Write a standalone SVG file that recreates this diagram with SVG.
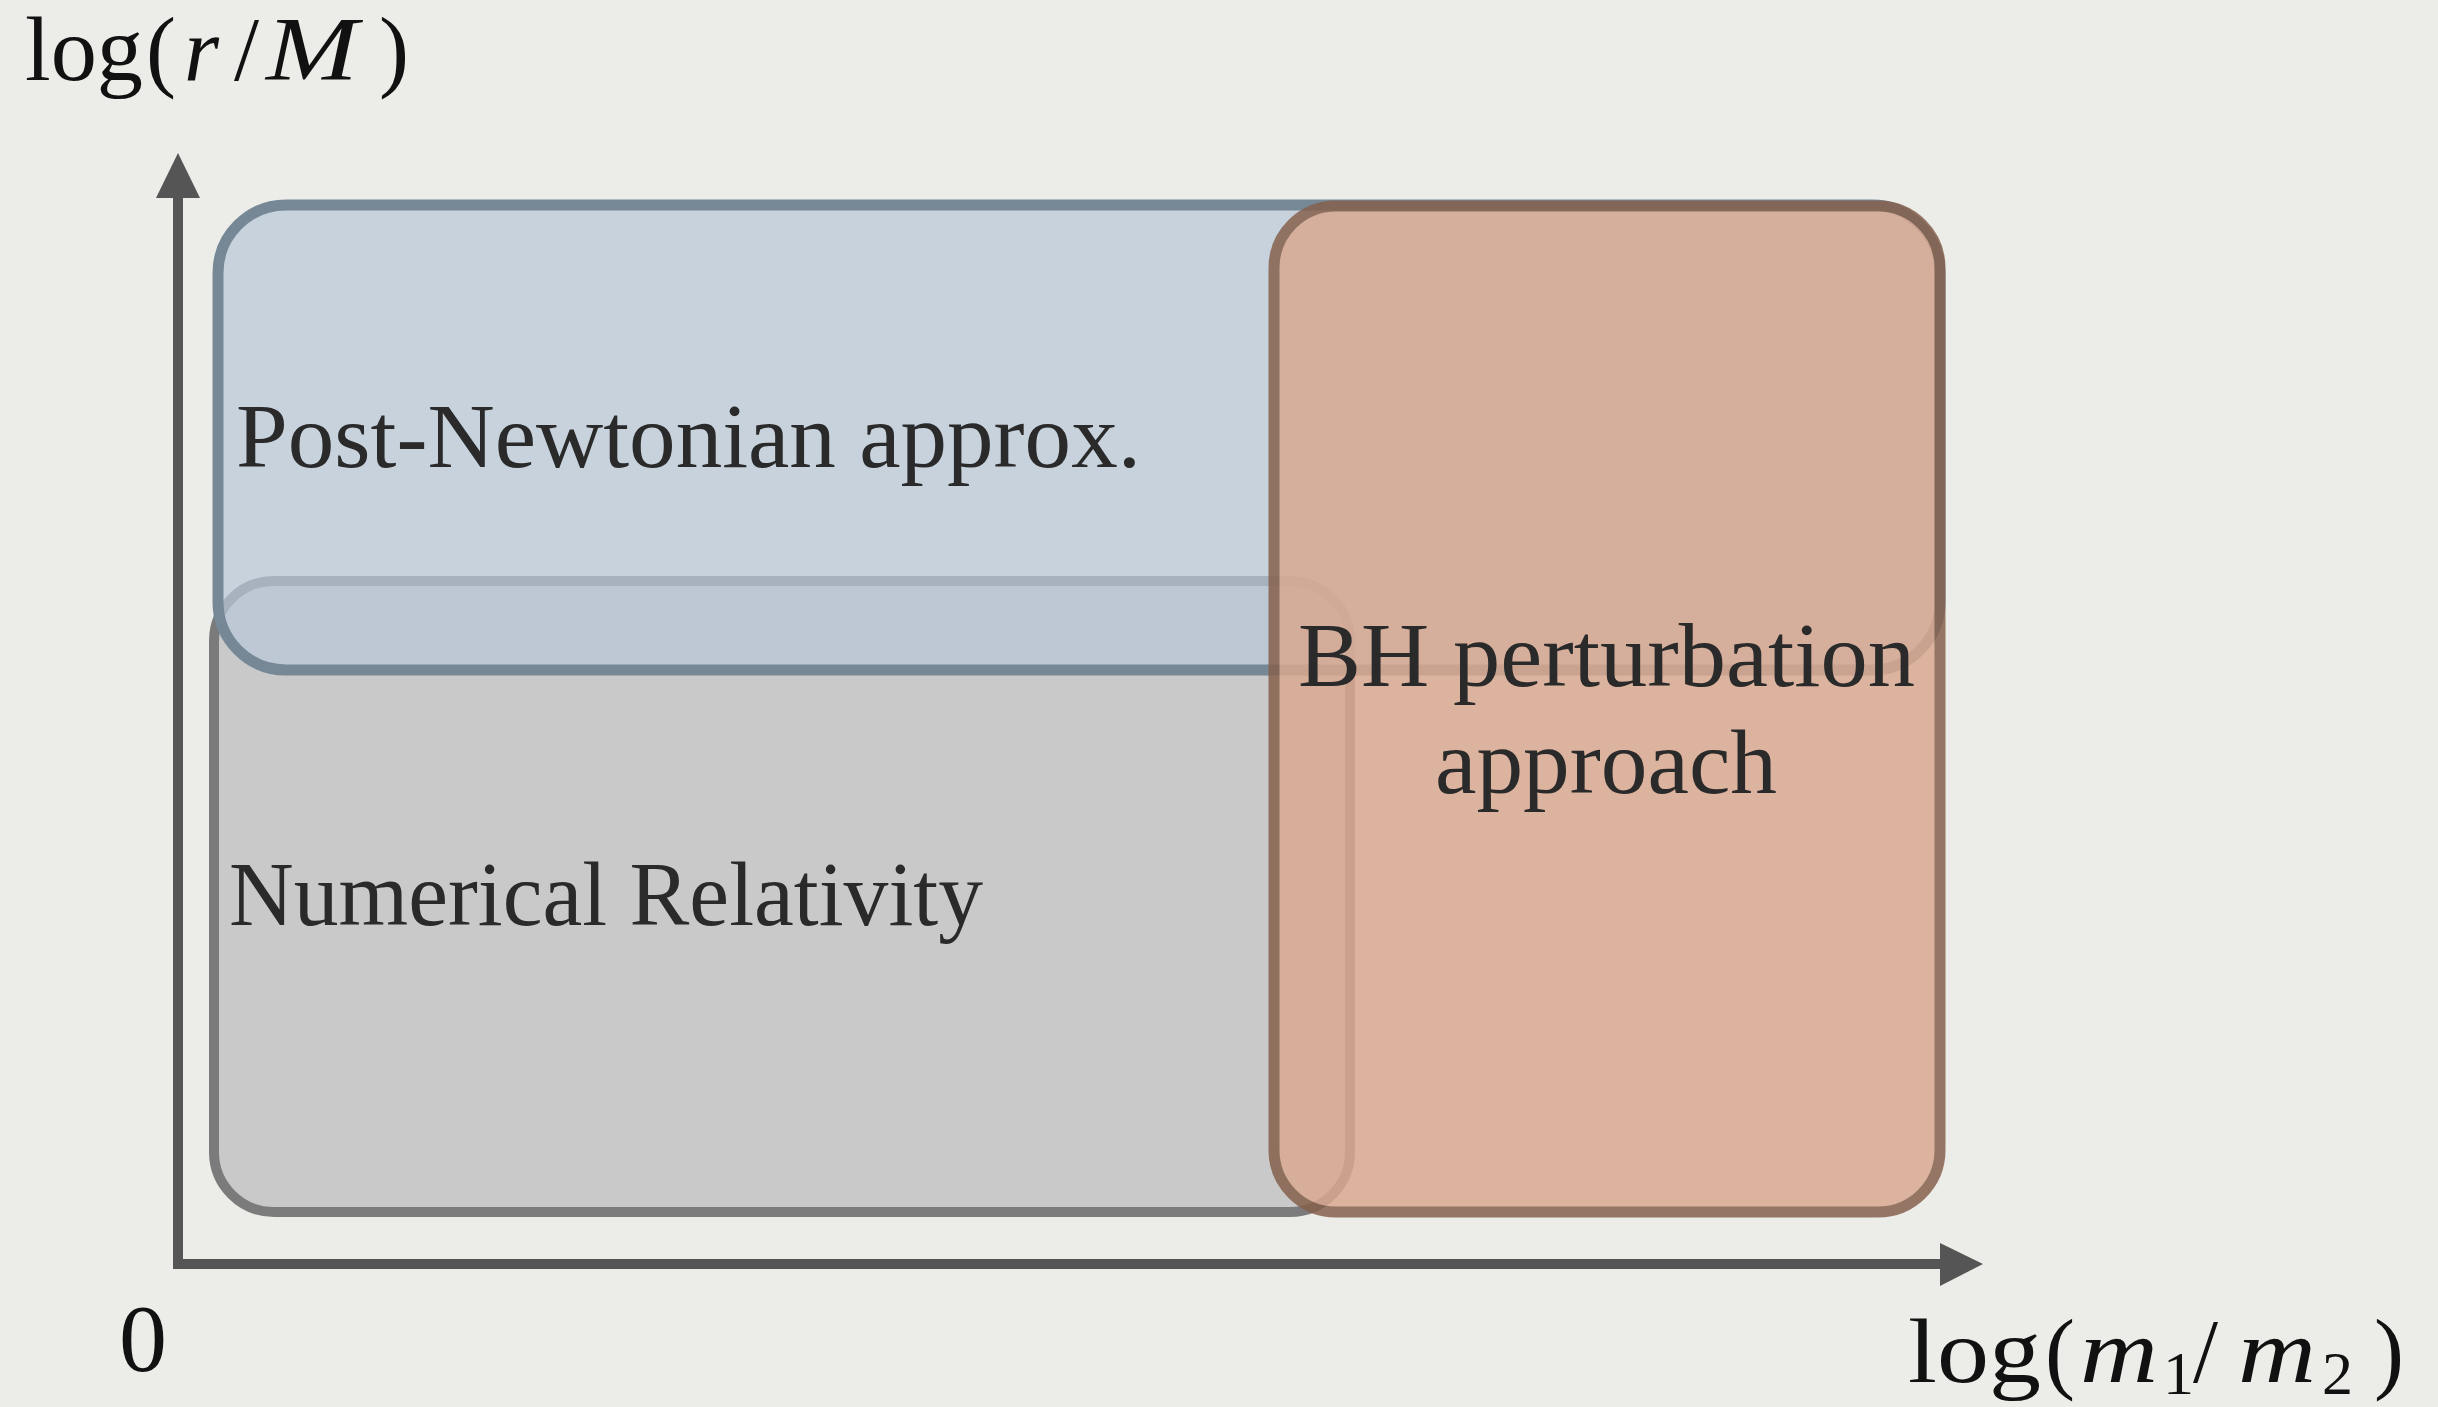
<svg xmlns="http://www.w3.org/2000/svg" width="2438" height="1407" viewBox="0 0 2438 1407">
<style>
.lbl{font-family:"Liberation Serif","Times New Roman",serif;font-size:92px;fill:#2a2a2a}
.math{font-family:"Liberation Serif","Times New Roman",serif;font-size:90px;fill:#111}
.it{font-style:italic}
.sub{font-size:62px}
.axis{stroke:#555;stroke-width:10;fill:none}
.head{fill:#555}
</style>
<rect x="0" y="0" width="2438" height="1407" fill="#ecece8"/>
<g id="nr">
<rect x="214" y="581" width="1136" height="631" rx="60" ry="60" fill="#c9c9c9" stroke="#7b7b7b" stroke-width="10"/>
<text class="lbl" x="229" y="925" textLength="754" lengthAdjust="spacingAndGlyphs">Numerical Relativity</text>
</g>
<g id="pn">
<rect x="218" y="205" width="1722" height="465" rx="68" ry="68" fill="#b9c8d8" fill-opacity="0.72" stroke="#768896" stroke-width="11"/>
<text class="lbl" x="236" y="467" textLength="905" lengthAdjust="spacingAndGlyphs">Post-Newtonian approx.</text>
</g>
<g id="bh">
<rect x="1274" y="206" width="666" height="1006" rx="62" ry="62" fill="#d9a990" stroke="#85604b" stroke-width="11" opacity="0.84"/>
<text class="lbl" x="1298" y="686" textLength="617" lengthAdjust="spacingAndGlyphs">BH perturbation</text>
<text class="lbl" x="1435" y="793" textLength="342" lengthAdjust="spacingAndGlyphs">approach</text>
</g>
<g id="axes">
<polyline class="axis" points="178,197 178,1264 1942,1264"/>
<polygon class="head" points="178,153 156,198 200,198"/>
<polygon class="head" points="1983,1264 1940,1243 1940,1286"/>
</g>
<g id="y-label">
<text class="math" x="25" y="80" textLength="118" lengthAdjust="spacingAndGlyphs">log</text>
<text class="math" x="146" y="80">(</text>
<text class="math it" x="184" y="80">r</text>
<text class="math" x="234" y="80">/</text>
<text class="math it" transform="translate(266,80) scale(1.2,1)" style="font-size:92px">M</text>
<text class="math" x="379" y="80">)</text>
</g>
<g id="origin-label">
<text class="math" x="143" y="1371" text-anchor="middle" style="font-size:96px">0</text>
</g>
<g id="x-label">
<text class="math" x="1908" y="1382" textLength="133" lengthAdjust="spacingAndGlyphs">log</text>
<text class="math" x="2045" y="1382">(</text>
<text class="math it" transform="translate(2080,1382) scale(1.2,1)">m</text>
<text class="math sub" x="2163" y="1394">1</text>
<text class="math" x="2193" y="1382">/</text>
<text class="math it" transform="translate(2238,1382) scale(1.2,1)">m</text>
<text class="math sub" x="2322" y="1394">2</text>
<text class="math" x="2374" y="1382">)</text>
</g>
</svg>
